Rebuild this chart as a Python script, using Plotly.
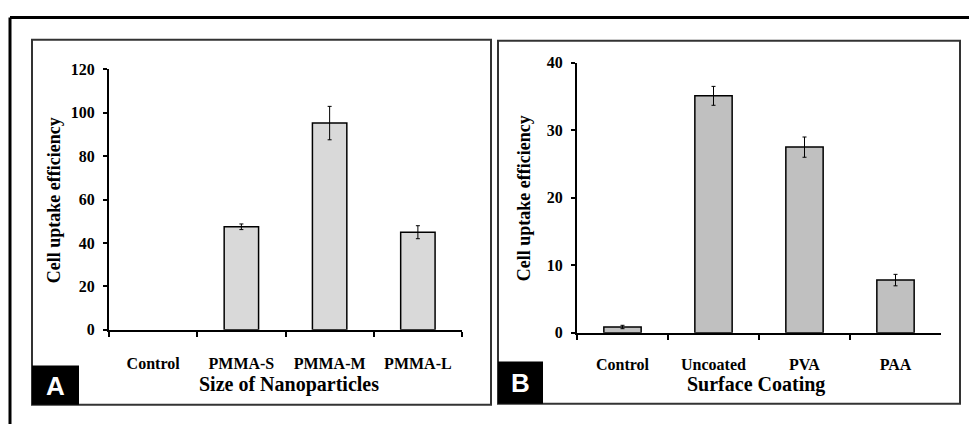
import plotly.graph_objects as go

W, H = 969, 433

# Data
cats_a = ["Control", "PMMA-S", "PMMA-M", "PMMA-L"]
vals_a = [0, 47.5, 95.3, 45.0]
err_a = [0, 1.3, 7.7, 3.0]

cats_b = ["Control", "Uncoated", "PVA", "PAA"]
vals_b = [0.85, 35.1, 27.5, 7.8]
err_b = [0.25, 1.4, 1.5, 0.85]

yticks_a = [0, 20, 40, 60, 80, 100, 120]
yticks_b = [0, 10, 20, 30, 40]

SERIF = "Liberation Serif"
SANS = "Liberation Sans"

def px(x):
    return x / W

def py(y):
    return 1 - y / H

fig = go.Figure()
# Panel A: bars (zero-height Control bar drawn with no outline)
fig.add_trace(go.Bar(
    x=cats_a, y=vals_a, width=0.39,
    marker=dict(color=["rgba(0,0,0,0)" if v == 0 else "#d9d9d9" for v in vals_a],
                line=dict(color="black", width=[0 if v == 0 else 1.5 for v in vals_a])),
    xaxis="x", yaxis="y", showlegend=False, hoverinfo="x+y"))
# Panel A: error bars only where there is an error
ea_x = [c for c, e in zip(cats_a, err_a) if e > 0]
ea_y = [v for v, e in zip(vals_a, err_a) if e > 0]
ea_e = [e for e in err_a if e > 0]
fig.add_trace(go.Scatter(
    x=ea_x, y=ea_y, mode="markers", marker=dict(size=0.1, color="rgba(0,0,0,0)"),
    error_y=dict(type="data", array=ea_e, color="black", thickness=1, width=2),
    xaxis="x", yaxis="y", showlegend=False, hoverinfo="skip"))

fig.add_trace(go.Bar(
    x=cats_b, y=vals_b, width=0.41,
    marker=dict(color="#c0c0c0", line=dict(color="black", width=1.5)),
    error_y=dict(type="data", array=err_b, color="black", thickness=1, width=2),
    xaxis="x2", yaxis="y2", showlegend=False, hoverinfo="x+y"))

tickfont = dict(family=SERIF, size=16, color="black", weight="bold")
common_x = dict(showline=True, linecolor="black", linewidth=2, ticks="outside",
                ticklen=5, tickwidth=1.5, tickcolor="black", tickson="boundaries",
                showgrid=False, zeroline=False, tickfont=tickfont, fixedrange=True)
common_y = dict(showline=True, linecolor="black", linewidth=2, ticks="outside",
                ticklen=4, tickwidth=1.5, tickcolor="black", showgrid=False,
                zeroline=False, tickfont=tickfont, ticklabelstandoff=5, fixedrange=True)

fig.update_layout(
    width=W, height=H,
    margin=dict(l=0, r=0, t=0, b=0),
    paper_bgcolor="white", plot_bgcolor="white",
    xaxis=dict(domain=[px(109), px(462)], anchor="y", range=[-0.5, 3.5],
               ticklabelstandoff=18, categoryorder="array", categoryarray=cats_a, **common_x),
    yaxis=dict(domain=[py(335), py(64)], anchor="x", range=[0, 120],
               tickvals=yticks_a, **common_y),
    xaxis2=dict(domain=[px(577), px(941)], anchor="y2", range=[-0.5, 3.5],
                ticklabelstandoff=16, **common_x),
    yaxis2=dict(domain=[py(338), py(57)], anchor="x2", range=[0, 40],
                tickvals=yticks_b, **common_y),
)

shapes = [
    # outer frame (only top and left edges visible; the rest is cropped)
    dict(type="line", xref="paper", yref="paper", x0=px(10), x1=1.0, y0=py(10), y1=py(10),
         line=dict(color="black", width=3)),
    dict(type="line", xref="paper", yref="paper", x0=px(10), x1=px(10), y0=0, y1=py(10),
         line=dict(color="black", width=3)),
    # panel frames
    dict(type="rect", xref="paper", yref="paper", x0=px(32), x1=px(491), y0=py(413), y1=py(33),
         line=dict(color="#333333", width=2)),
    dict(type="rect", xref="paper", yref="paper", x0=px(498), x1=px(960), y0=py(412), y1=py(34),
         line=dict(color="#333333", width=2)),
    # panel label boxes
    dict(type="rect", xref="paper", yref="paper", x0=px(32), x1=px(79), y0=py(413), y1=py(372),
         fillcolor="black", line=dict(color="black", width=0)),
    dict(type="rect", xref="paper", yref="paper", x0=px(498), x1=px(543), y0=py(412), y1=py(368),
         fillcolor="black", line=dict(color="black", width=0)),
]
fig.update_layout(shapes=shapes)

titlefont = dict(family=SERIF, size=18, color="black", weight="bold")
xtitlefont = dict(family=SERIF, size=20, color="black", weight="bold")
annos = [
    dict(text="Cell uptake efficiency", x=px(54), y=py(200), textangle=-90, font=titlefont),
    dict(text="Cell uptake efficiency", x=px(524), y=py(198), textangle=-90, font=titlefont),
    dict(text="Size of Nanoparticles", x=px(289), y=py(392), font=xtitlefont),
    dict(text="Surface Coating", x=px(756), y=py(392), font=xtitlefont),
    dict(text="A", x=px(55.5), y=py(393), font=dict(family=SANS, size=26, color="white", weight="bold")),
    dict(text="B", x=px(520.5), y=py(390), font=dict(family=SANS, size=26, color="white", weight="bold")),
]
for a in annos:
    fig.add_annotation(xref="paper", yref="paper", showarrow=False,
                       xanchor="center", yanchor="middle", **a)

fig.write_html("out.html")
